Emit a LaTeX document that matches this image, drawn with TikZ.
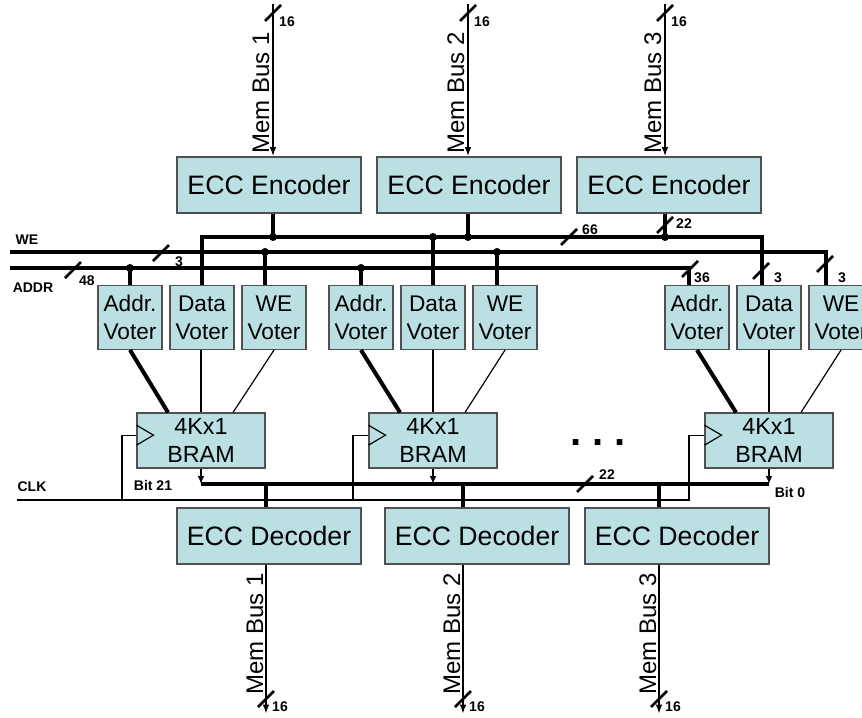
\documentclass[tikz,border=0pt]{standalone}
\usepackage{fontspec}
\setmainfont{Liberation Sans}
\usetikzlibrary{arrows.meta,positioning}
\definecolor{cell}{HTML}{BBE0E3}
\definecolor{edge}{HTML}{505050}
% short diagonal stroke marking a bus width
\newcommand{\wslash}[1]{\draw[slash] (#1) ++(-8,8) -- ++(16,-16);}

\begin{document}
\begin{tikzpicture}[x=0.75pt,y=-0.75pt,
      every node/.style={inner sep=1pt},
      box/.style={draw=edge,line width=0.8pt,fill=cell,align=center},
      enc/.style={box,minimum width=138pt,minimum height=42pt,
                  font=\fontsize{20}{24}\selectfont},
      voter/.style={box,minimum width=48pt,minimum height=48pt,inner sep=0pt,
                  font=\fontsize{17}{21}\selectfont},
      bram/.style={box,minimum width=96pt,minimum height=41.25pt,
                  font=\fontsize{17.5}{21}\selectfont},
      busname/.style={rotate=90,anchor=south,font=\fontsize{18}{20}\selectfont},
      wlab/.style={inner sep=0pt,font=\fontsize{10.5}{12}\selectfont\bfseries},
      bus/.style={line width=3pt},
      wire/.style={line width=0.9pt},
      mem/.style={line width=1.5pt,-{Latex[length=7pt,width=5pt]}},
      outarr/.style={wire,-{Latex[length=6pt,width=5pt]}},
      slash/.style={line width=2pt},
  ]
    \clip (0,0) rectangle (862,717);

    % encoders
    \node[enc] (enc1) at (269,185) {ECC Encoder};
    \node[enc] (enc2) at (469,185) {ECC Encoder};
    \node[enc] (enc3) at (669,185) {ECC Encoder};

    % voters
    \node[voter] (av1) at (130,317.5) {Addr.\\Voter};
    \node[voter] (dv1) at (202,317.5) {Data\\Voter};
    \node[voter] (wv1) at (274,317.5) {WE\\Voter};
    \node[voter] (av2) at (361,317.5) {Addr.\\Voter};
    \node[voter] (dv2) at (433,317.5) {Data\\Voter};
    \node[voter] (wv2) at (505,317.5) {WE\\Voter};
    \node[voter] (av3) at (697,317.5) {Addr.\\Voter};
    \node[voter] (dv3) at (769,317.5) {Data\\Voter};
    \node[voter] (wv3) at (841,317.5) {WE\\Voter};

    % block rams
    \node[bram] (bram1) at (201,440.5) {4Kx1\\BRAM};
    \node[bram] (bram2) at (433,440.5) {4Kx1\\BRAM};
    \node[bram] (bram3) at (769,440.5) {4Kx1\\BRAM};
    \node[inner sep=0pt,font=\fontsize{30}{30}\selectfont\bfseries] (more) at (598,443) {.\ .\ .};

    % decoders
    \node[enc] (dec1) at (269,536) {ECC Decoder};
    \node[enc] (dec2) at (477,536) {ECC Decoder};
    \node[enc] (dec3) at (677,536) {ECC Decoder};

    \coordinate (in1) at (273,4);
    \coordinate (in2) at (468,4);
    \coordinate (in3) at (665,4);
    \coordinate (daR) at (762,237);
    \coordinate (da2) at (433,237);
    \coordinate (weL) at (10,252);
    \coordinate (weR) at (826,252);
    \coordinate (we1) at (265,252);
    \coordinate (we2) at (497,252);
    \coordinate (adL) at (10,268);
    \coordinate (adR) at (689,268);
    \coordinate (ad1) at (130,268);
    \coordinate (ad2) at (361,268);
    \coordinate (ckL) at (17,500);
    \coordinate (ckR) at (689,500);
    \coordinate (ck1) at (122,500);
    \coordinate (ck2) at (353,500);
    \coordinate (obL) at (201,484);
    \coordinate (obR) at (769,484);
    \coordinate (tap1) at (266,484);
    \coordinate (tap2) at (463,484);
    \coordinate (tap3) at (659,484);
    \coordinate (out1) at (266,714);
    \coordinate (out2) at (463,714);
    \coordinate (out3) at (659,714);

    % memory buses in
    \draw[mem] (in1) -- (in1 |- enc1.north);
    \draw[mem] (in2) -- (in2 |- enc2.north);
    \draw[mem] (in3) -- (in3 |- enc3.north);
    \node[busname] (nbi1) at (271,93) {Mem Bus 1};
    \node[busname] (nbi2) at (466,93) {Mem Bus 2};
    \node[busname] (nbi3) at (663,93) {Mem Bus 3};

    % data bus
    \draw[bus] (enc1.south -| in1) -- (in1 |- daR);
    \draw[bus] (enc2.south -| in2) -- (in2 |- daR);
    \draw[bus] (enc3.south -| in3) -- (in3 |- daR);
    \draw[bus] (dv1.north) |- (daR) -- (daR |- dv3.north);
    \draw[bus] (da2) -- (da2 |- dv2.north);

    % write enable and address
    \draw[bus] (weL) -- (weR) -- (weR |- wv3.north);
    \draw[bus] (we1) -- (we1 |- wv1.north);
    \draw[bus] (we2) -- (we2 |- wv2.north);
    \draw[bus] (adL) -- (adR) -- (adR |- av3.north);
    \draw[bus] (ad1) -- (ad1 |- av1.north);
    \draw[bus] (ad2) -- (ad2 |- av2.north);
    \foreach \p in {in1 |- daR,in2 |- daR,in3 |- daR,da2,we1,we2,ad1,ad2}
      \fill (\p) circle (3pt);

    % voters to block rams
    \draw[bus] (av1.south) -- ([xshift=-24.75pt]bram1.north);
    \draw[wire] (dv1.south -| bram1.north) -- (bram1.north);
    \draw[wire] (wv1.south) -- ([xshift=24pt]bram1.north);
    \draw[bus] (av2.south) -- ([xshift=-24.75pt]bram2.north);
    \draw[wire] (dv2.south) -- (bram2.north);
    \draw[wire] (wv2.south) -- ([xshift=24pt]bram2.north);
    \draw[bus] (av3.south) -- ([xshift=-24.75pt]bram3.north);
    \draw[wire] (dv3.south) -- (bram3.north);
    \draw[wire] (wv3.south) -- ([xshift=24pt]bram3.north);

    % clock
    \draw[wire] ([yshift=4pt]bram1.west) ++(0,-10) -- ++(17,10) -- ++(-17,10);
    \draw[wire] ([yshift=4pt]bram2.west) ++(0,-10) -- ++(17,10) -- ++(-17,10);
    \draw[wire] ([yshift=4pt]bram3.west) ++(0,-10) -- ++(17,10) -- ++(-17,10);
    \draw[wire] ([yshift=4pt]bram1.west) -| (ck1);
    \draw[wire] ([yshift=4pt]bram2.west) -| (ck2);
    \draw[wire] (ckL) -- (ckR) |- ([yshift=4pt]bram3.west);

    % read bits
    \draw[bus] (obL) -- (obR);
    \draw[outarr] (bram1.south) -- (bram1.south |- obL);
    \draw[outarr] (bram2.south) -- (bram2.south |- obL);
    \draw[outarr] (bram3.south) -- (bram3.south |- obR);
    \draw[bus] (tap1) -- (tap1 |- dec1.north);
    \draw[bus] (tap2) -- (tap2 |- dec2.north);
    \draw[bus] (tap3) -- (tap3 |- dec3.north);

    % memory buses out
    \draw[mem] (dec1.south -| out1) -- (out1);
    \draw[mem] (dec2.south -| out2) -- (out2);
    \draw[mem] (dec3.south -| out3) -- (out3);
    \node[busname] (nbo1) at (265,634) {Mem Bus 1};
    \node[busname] (nbo2) at (462,634) {Mem Bus 2};
    \node[busname] (nbo3) at (658,634) {Mem Bus 3};

    % widths
    \wslash{273,13} \wslash{468,13} \wslash{665,13}
    \wslash{665,225} \wslash{569,237} \wslash{161,253} \wslash{73,270}
    \wslash{690,269} \wslash{761,271} \wslash{825,264} \wslash{585,484}
    \wslash{266,699} \wslash{463,699} \wslash{659,699}
    \node[wlab] (w16a) at (287,22) {16};
    \node[wlab] (w16b) at (482,22) {16};
    \node[wlab] (w16c) at (679,22) {16};
    \node[wlab] (w22a) at (684,224) {22};
    \node[wlab] (w66) at (590,230) {66};
    \node[wlab] (w3a) at (179,262) {3};
    \node[wlab] (w48) at (87,281) {48};
    \node[wlab] (w36) at (702,278) {36};
    \node[wlab] (w3b) at (778,278) {3};
    \node[wlab] (w3c) at (842,278) {3};
    \node[wlab] (w22b) at (607,475) {22};
    \node[wlab] (w16d) at (280,707) {16};
    \node[wlab] (w16e) at (477,707) {16};
    \node[wlab] (w16f) at (673,707) {16};

    \node[wlab] (weT) at (27,240) {WE};
    \node[wlab] (adT) at (33,288) {ADDR};
    \node[wlab] (ckT) at (32,487) {CLK};
    \node[wlab] (bit21) at (153,485) {Bit 21};
    \node[wlab] (bit0) at (790,492) {Bit 0};
\end{tikzpicture}
\end{document}
